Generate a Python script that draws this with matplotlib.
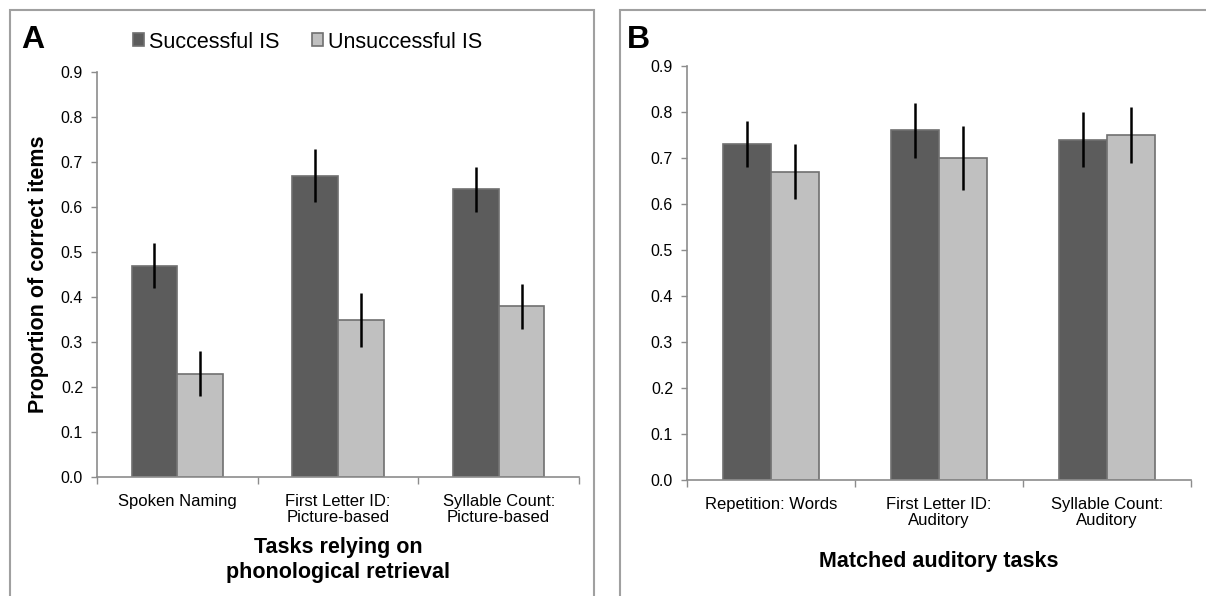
import matplotlib.pyplot as plt
from matplotlib.patches import Rectangle
import numpy as np

plt.rcParams['font.family'] = ['Liberation Sans', 'DejaVu Sans']

labels_a = ["Spoken Naming", "First Letter ID:\nPicture-based", "Syllable Count:\nPicture-based"]
succ_a = [0.47, 0.67, 0.64]
succ_a_err = [0.05, 0.06, 0.05]
unsucc_a = [0.23, 0.35, 0.38]
unsucc_a_err = [0.05, 0.06, 0.05]

labels_b = ["Repetition: Words", "First Letter ID:\nAuditory", "Syllable Count:\nAuditory"]
succ_b = [0.73, 0.76, 0.74]
succ_b_err = [0.05, 0.06, 0.06]
unsucc_b = [0.67, 0.70, 0.75]
unsucc_b_err = [0.06, 0.07, 0.06]

yticks = [0.0, 0.1, 0.2, 0.3, 0.4, 0.5, 0.6, 0.7, 0.8, 0.9]

dark = '#5c5c5c'
light = '#c0c0c0'
edge = '#707070'
spine = '#8c8c8c'

W, H = 1206, 596
fig = plt.figure(figsize=(W / 100, H / 100), dpi=100)

# panel frames
fig.patches.append(Rectangle((10 / W, -0.02), 584 / W, (H - 10) / H + 0.02,
                             transform=fig.transFigure, fill=False,
                             edgecolor='#a0a0a0', linewidth=1.5))
fig.patches.append(Rectangle((620 / W, -0.02), 600 / W, (H - 10) / H + 0.02,
                             transform=fig.transFigure, fill=False,
                             edgecolor='#a0a0a0', linewidth=1.5))


def panel(ax, labels, s, se, u, ue):
    x = np.arange(len(labels))
    w = 0.285
    b1 = ax.bar(x - w / 2, s, w, color=dark, edgecolor=edge, linewidth=1.2,
                label='Successful IS')
    b2 = ax.bar(x + w / 2, u, w, color=light, edgecolor=edge, linewidth=1.2,
                label='Unsuccessful IS')
    ax.errorbar(x - w / 2, s, yerr=se, fmt='none', ecolor='black', elinewidth=1.8, capsize=0)
    ax.errorbar(x + w / 2, u, yerr=ue, fmt='none', ecolor='black', elinewidth=1.8, capsize=0)
    ax.set_xlim(-0.5, len(labels) - 0.5)
    ax.set_ylim(0, 0.9)
    ax.set_yticks(yticks)
    ax.set_yticklabels(['%.1f' % t for t in yticks], fontsize=11.5)
    ax.set_xticks(x)
    ax.set_xticklabels(labels, fontsize=12, linespacing=1.1)
    ax.set_xticks(np.arange(len(labels) + 1) - 0.5, minor=True)
    ax.tick_params(axis='x', which='major', length=0, pad=12)
    ax.tick_params(axis='x', which='minor', length=5, color=spine, width=1)
    ax.tick_params(axis='y', length=4, color=spine, width=1, pad=6)
    for sp in ['top', 'right']:
        ax.spines[sp].set_visible(False)
    for sp in ['left', 'bottom']:
        ax.spines[sp].set_color(spine)
        ax.spines[sp].set_linewidth(1.2)
    return b1, b2


ax1 = fig.add_axes([97 / W, (H - 477) / H, 482 / W, 405 / H])
b1, b2 = panel(ax1, labels_a, succ_a, succ_a_err, unsucc_a, unsucc_a_err)
ax1.set_ylabel('Proportion of correct items', fontsize=15.5, fontweight='bold')
ax1.yaxis.set_label_coords(-48 / 482, 0.5)
ax1.set_xlabel('Tasks relying on\nphonological retrieval', fontsize=15.5,
               fontweight='bold', labelpad=9, linespacing=1.2)

ax2 = fig.add_axes([687 / W, (H - 480) / H, 504 / W, 414 / H])
panel(ax2, labels_b, succ_b, succ_b_err, unsucc_b, unsucc_b_err)
ax2.set_xlabel('Matched auditory tasks', fontsize=15.5, fontweight='bold', labelpad=17)

fig.text(21 / W, 1 - 40 / H, 'A', fontsize=23, fontweight='bold', va='center')
fig.text(627 / W, 1 - 40 / H, 'B', fontsize=23, fontweight='bold', va='center')

fig.legend([b1, b2], ['Successful IS', 'Unsuccessful IS'], loc='center left',
           bbox_to_anchor=(124 / W, 1 - 42 / H), ncol=2, frameon=False,
           fontsize=15.5, handlelength=0.55, handleheight=0.55, handletextpad=0.2,
           columnspacing=1.5, borderaxespad=0)

fig.savefig('out.png', dpi=100)
